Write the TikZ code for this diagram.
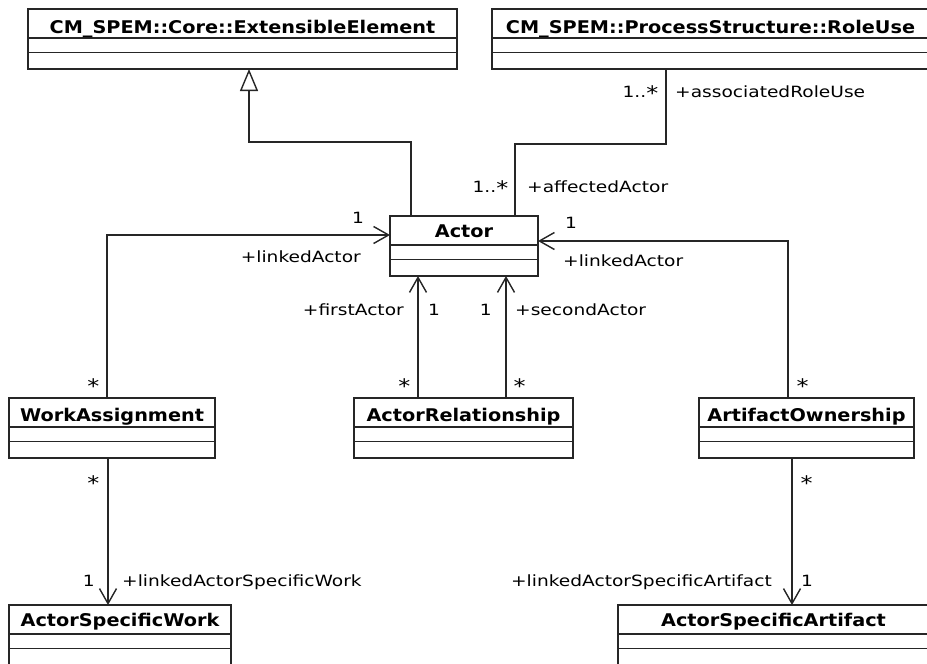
\documentclass[tikz,border=0pt]{standalone}
\usepackage{fontspec}
\usetikzlibrary{arrows.meta}
\newfontfamily\lblfont[FakeStretch=1.2]{DejaVu Sans}
\newfontfamily\ttlfont[FakeStretch=1.1]{DejaVu Sans Bold}
\newcommand{\bigast}{\raisebox{-3pt}{\fontsize{20}{20}\selectfont *}}
\tikzset{
  clsbox/.style={draw=black!85, line width=1.4pt, fill=white, inner sep=0pt, outer sep=0pt, rectangle},
  clssep/.style={draw=black!85, line width=1.6pt},
  clstitle/.style={font=\ttlfont\fontsize{17.5}{20}\selectfont, inner sep=0pt, anchor=base},
  lbl/.style={font=\lblfont\fontsize{15.5}{18}\selectfont, inner sep=0pt},
  assoc/.style={draw=black!85, line width=1.4pt},
  nav/.style={assoc, -{Straight Barb[length=15pt,width=17pt,line width=1.4pt]}},
  gen/.style={assoc, -{Triangle[open,length=22pt,width=18pt,line width=1.4pt,fill=white]}},
}
\newcommand{\umlclass}[7]{%
  \node[clsbox, minimum width={(#4-#2)*1pt}, minimum height={(#5-#3)*1pt}, anchor=north west] (#1) at (#2,#3) {};
  \draw[clssep] ([yshift=-29pt]#1.north west) -- ([yshift=-29pt]#1.north east);
  \draw[clssep] ([yshift=-43.5pt]#1.north west) -- ([yshift=-43.5pt]#1.north east);
  \node[clstitle] (#1-title) at ([yshift=-#7pt]#1.north) {#6};
}
\begin{document}
\begin{tikzpicture}[x=1pt,y=-1pt]
\useasboundingbox[fill=white] (0,0) rectangle (927,664);
% classes
\umlclass{ext}{28}{9}{457}{69}{CM\_SPEM::Core::ExtensibleElement}{24}
\umlclass{role}{492}{9}{929}{69}{CM\_SPEM::ProcessStructure::RoleUse}{24}
\umlclass{actor}{390}{216}{538}{276}{Actor}{21.5}
\umlclass{wa}{9}{398}{215}{458}{WorkAssignment}{23}
\umlclass{ar}{354}{398}{573}{458}{ActorRelationship}{23}
\umlclass{ao}{699}{398}{914}{458}{ArtifactOwnership}{23}
\umlclass{asw}{9}{605}{231}{668}{ActorSpecificWork}{21.5}
\umlclass{asa}{618}{605}{929}{668}{ActorSpecificArtifact}{21.5}
% generalization
\draw[gen] ([xshift=21pt]actor.north west) -- ++(0,-74) -| ([xshift=6.5pt]ext.south);
% association RoleUse - Actor
\draw[assoc] ([xshift=174pt]role.south west) -- ++(0,75) -| ([xshift=-23pt]actor.north east);
% navigable associations
\draw[nav] ([xshift=98pt]wa.north west) |- ([yshift=11pt]actor.west);
\draw[nav] ([xshift=89pt]ao.north west) |- ([yshift=5pt]actor.east);
\draw[nav] ([xshift=64pt]ar.north west) -- ([xshift=28pt]actor.south west);
\draw[nav] ([xshift=152pt]ar.north west) -- ([xshift=116pt]actor.south west);
\draw[nav] ([xshift=99pt]wa.south west) -- ([xshift=99pt]asw.north west);
\draw[nav] ([xshift=93pt]ao.south west) -- ([xshift=174pt]asa.north west);
% labels
\node[lbl, anchor=base east] (l1) at (658.5,97) {1..\bigast};
\node[lbl, anchor=base west] (l2) at (675,97) {+associatedRoleUse};
\node[lbl, anchor=base east] (l3) at (508.5,192) {1..\bigast};
\node[lbl, anchor=base west] (l4) at (527,192) {+affectedActor};
\node[lbl, anchor=base west] (l5) at (352,223) {1};
\node[lbl, anchor=base east] (l6) at (361,262) {+linkedActor};
\node[lbl, anchor=base west] (l7) at (565,228) {1};
\node[lbl, anchor=base west] (l8) at (563,266) {+linkedActor};
\node[lbl, anchor=base east] (l9) at (404,315) {+firstActor};
\node[lbl, anchor=base west] (l10) at (428,315) {1};
\node[lbl, anchor=base east] (l11) at (492,315) {1};
\node[lbl, anchor=base west] (l12) at (515,315) {+secondActor};
\node[lbl, anchor=base east] (l13) at (99.5,390) {\bigast};
\node[lbl, anchor=base east] (l14) at (410.5,390) {\bigast};
\node[lbl, anchor=base west] (l15) at (513.5,390) {\bigast};
\node[lbl, anchor=base west] (l16) at (796.5,390) {\bigast};
\node[lbl, anchor=base east] (l17) at (99.5,487) {\bigast};
\node[lbl, anchor=base west] (l18) at (800.5,487) {\bigast};
\node[lbl, anchor=base east] (l19) at (95,586) {1};
\node[lbl, anchor=base west] (l20) at (122,586) {+linkedActorSpecificWork};
\node[lbl, anchor=base east] (l21) at (772,586) {+linkedActorSpecificArtifact};
\node[lbl, anchor=base west] (l22) at (801,586) {1};
\end{tikzpicture}
\end{document}
